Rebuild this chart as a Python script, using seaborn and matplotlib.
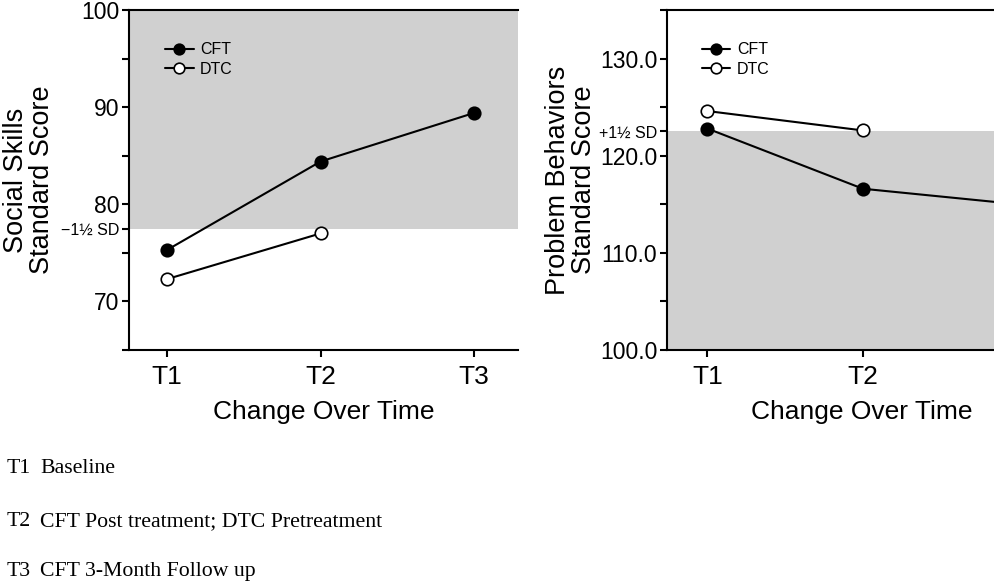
import matplotlib
matplotlib.use("Agg")
import matplotlib.pyplot as plt
import seaborn as sns
import pandas as pd
from matplotlib.ticker import FixedLocator

# ---------------- data ----------------
time_points = [1, 2, 3]
time_labels = ["T1", "T2", "T3"]

social_cft = [75.3, 84.4, 89.4]
social_dtc = [72.3, 77.0]
social_threshold = 77.5          # -1½ SD

problem_cft = [122.8, 116.6, 115.0]
problem_dtc = [124.6, 122.6]
problem_threshold = 122.5        # +1½ SD

footnote_codes = ["T1", "T2", "T3"]
footnote_texts = ["Baseline", "CFT Post treatment; DTC Pretreatment", "CFT 3-Month Follow up"]

# ---------------- style ----------------
sns.set_theme(style="white")
plt.rcParams["font.family"] = ["Liberation Sans", "DejaVu Sans"]
for k in ["text.color", "axes.labelcolor", "xtick.color", "ytick.color", "axes.edgecolor"]:
    plt.rcParams[k] = "black"

W, H = 995, 582
fig = plt.figure(figsize=(W / 100, H / 100), dpi=100)

def px_axes(x0, y_top, w, h):
    return fig.add_axes([x0 / W, (H - y_top - h) / H, w / W, h / H])

ax1 = px_axes(129, 10, 389, 340)
ax2 = px_axes(667, 10, 389, 340)

shade = "#d0d0d0"

def style_axes(ax, ylim, major, minor, thr, ylabels, xlabels, xlim):
    ax.set_facecolor("white")
    ax.set_xlim(*xlim)
    ax.set_ylim(*ylim)
    for s in ["left", "bottom", "top"]:
        ax.spines[s].set_visible(True)
        ax.spines[s].set_color("black")
        ax.spines[s].set_linewidth(1.5)
    ax.spines["right"].set_visible(False)
    ax.set_xticks(time_points)
    ax.set_xticklabels(xlabels, fontsize=19)
    ax.set_yticks(major + [thr])
    ax.set_yticklabels(ylabels)
    for lbl in ax.get_yticklabels():
        lbl.set_fontsize(11.5 if "SD" in lbl.get_text() else 16.5)
    ax.yaxis.set_minor_locator(FixedLocator(minor))
    ax.tick_params(axis="both", which="both", direction="out", length=5, width=1.5,
                   color="black", labelcolor="black",
                   left=True, bottom=True, top=False, right=False)
    ax.tick_params(axis="y", pad=2)
    ax.tick_params(axis="x", pad=6)
    ax.grid(False)

def draw_series(ax, cft, dtc):
    df_c = pd.DataFrame({"time": time_points[:len(cft)], "score": cft})
    df_d = pd.DataFrame({"time": time_points[:len(dtc)], "score": dtc})
    sns.lineplot(data=df_c, x="time", y="score", ax=ax, color="black", lw=1.5,
                 marker="o", markersize=9, markerfacecolor="black",
                 markeredgecolor="black", markeredgewidth=1.2, label="CFT", zorder=3)
    sns.lineplot(data=df_d, x="time", y="score", ax=ax, color="black", lw=1.5,
                 marker="o", markersize=9, markerfacecolor="white",
                 markeredgecolor="black", markeredgewidth=1.2, label="DTC", zorder=3)

# ---- left panel ----
ax1.axhspan(social_threshold, 100, color=shade, lw=0, zorder=0)
draw_series(ax1, social_cft, social_dtc)
style_axes(ax1, (65, 100), [70, 80, 90, 100], [65, 75, 85, 95], social_threshold,
           ["70", "80", "90", "100", "\u22121\u00bd SD"], time_labels, (0.752, 3.287))
ax1.set_ylabel("Social Skills\nStandard Score", fontsize=19.5, linespacing=1.0, color="black")
ax1.yaxis.set_label_coords(-0.19, 0.5)
ax1.set_xlabel("Change Over Time", fontsize=19, color="black")
ax1.xaxis.set_label_coords(0.5, -0.148)

# ---- right panel (cut off at the figure edge, as in the source) ----
ax2.axhspan(100, problem_threshold, color=shade, lw=0, zorder=0)
draw_series(ax2, problem_cft, problem_dtc)
style_axes(ax2, (100, 135), [100, 110, 120, 130], [105, 115, 125, 135], problem_threshold,
           ["100.0", "110.0", "120.0", "130.0", "+1\u00bd SD"], ["T1", "T2", ""], (0.741, 3.241))
ax2.set_ylabel("Problem Behaviors\nStandard Score", fontsize=19.5, linespacing=1.0, color="black")
ax2.yaxis.set_label_coords(-0.18, 0.5)
ax2.set_xlabel("Change Over Time", fontsize=19, color="black")
ax2.xaxis.set_label_coords(0.5, -0.148)

for ax, lx in [(ax1, 0.0925), (ax2, 0.089)]:
    leg = ax.legend(loc="upper left", bbox_to_anchor=(lx, 0.905), frameon=False,
                    fontsize=11.5, handlelength=1.8, handletextpad=0.4, labelspacing=0.28,
                    borderpad=0, borderaxespad=0, markerscale=0.85)
    for t in leg.get_texts():
        t.set_color("black")

# ---- footnotes ----
ys = [473, 526, 576]
serif = ["Liberation Serif", "DejaVu Serif"]
for code, txt, y in zip(footnote_codes, footnote_texts, ys):
    fig.text(7 / W, 1 - y / H, code, fontsize=15.7, family=serif,
             va="baseline", ha="left", color="black")
    fig.text(40 / W, 1 - y / H, txt, fontsize=15.7, family=serif,
             va="baseline", ha="left", color="black")

fig.savefig("out.png", dpi=100, facecolor="white")
